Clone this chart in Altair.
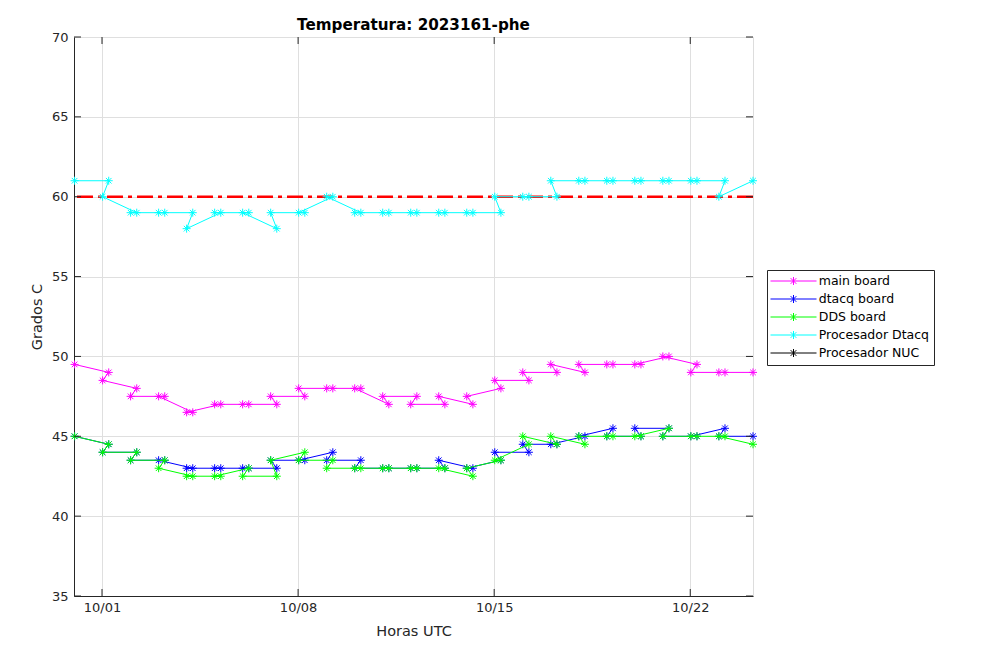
import altair as alt
import pandas as pd

# ---------------- data ----------------
times = [
    "2023-09-30T00:30:00Z",
    "2023-10-01T05:45:00Z", "2023-10-01T00:30:00Z",
    "2023-10-02T05:45:00Z", "2023-10-02T00:30:00Z",
    "2023-10-03T05:45:00Z", "2023-10-03T00:30:00Z",
    "2023-10-04T05:45:00Z", "2023-10-04T00:30:00Z",
    "2023-10-05T05:45:00Z", "2023-10-05T00:30:00Z",
    "2023-10-06T05:45:00Z", "2023-10-06T00:30:00Z",
    "2023-10-07T05:45:00Z", "2023-10-07T00:30:00Z",
    "2023-10-08T05:45:00Z", "2023-10-08T00:30:00Z",
    "2023-10-09T05:45:00Z", "2023-10-09T00:30:00Z",
    "2023-10-10T05:45:00Z", "2023-10-10T00:30:00Z",
    "2023-10-11T05:45:00Z", "2023-10-11T00:30:00Z",
    "2023-10-12T05:45:00Z", "2023-10-12T00:30:00Z",
    "2023-10-13T05:45:00Z", "2023-10-13T00:30:00Z",
    "2023-10-14T05:45:00Z", "2023-10-14T00:30:00Z",
    "2023-10-15T05:45:00Z", "2023-10-15T00:30:00Z",
    "2023-10-16T05:45:00Z", "2023-10-16T00:30:00Z",
    "2023-10-17T05:45:00Z", "2023-10-17T00:30:00Z",
    "2023-10-18T05:45:00Z", "2023-10-18T00:30:00Z",
    "2023-10-19T05:45:00Z", "2023-10-19T00:30:00Z",
    "2023-10-20T05:45:00Z", "2023-10-20T00:30:00Z",
    "2023-10-21T05:45:00Z", "2023-10-21T00:30:00Z",
    "2023-10-22T05:45:00Z", "2023-10-22T00:30:00Z",
    "2023-10-23T05:45:00Z", "2023-10-23T00:30:00Z",
    "2023-10-24T05:45:00Z",
]

main_board = [49.5, 49, 48.5, 48, 47.5, 47.5, 47.5, 46.5, 46.5, 47,
              47, 47, 47, 47, 47.5, 47.5, 48, 48, 48, 48,
              48, 47, 47.5, 47.5, 47, 47, 47.5, 47, 47.5, 48,
              48.5, 48.5, 49, 49, 49.5, 49, 49.5, 49.5, 49.5, 49.5,
              49.5, 50, 50, 49.5, 49, 49, 49, 49]

dtacq_board = [45, 44.5, 44, 44, 43.5, 43.5, 43.5, 43, 43, 43,
               43, 43, 43, 43, 43.5, 43.5, 43.5, 44, 43.5, 43.5,
               43, 43, 43, 43, 43, 43, 43.5, 43, 43, 43.5,
               44, 44, 44.5, 44.5, 44.5, 45, 45, 45.5, 45, 45,
               45.5, 45.5, 45, 45, 45, 45.5, 45, 45]

dds_board = [45, 44.5, 44, 44, 43.5, 43.5, 43, 42.5, 42.5, 42.5,
             42.5, 43, 42.5, 42.5, 43.5, 44, 43.5, 43.5, 43, 43,
             43, 43, 43, 43, 43, 43, 43, 42.5, 43, 43.5,
             43.5, 44.5, 45, 44.5, 45, 44.5, 45, 45, 45, 45,
             45, 45.5, 45, 45, 45, 45, 45, 44.5]

proc_dtacq = [61, 61, 60, 59, 59, 59, 59, 59, 58, 59,
              59, 59, 59, 58, 59, 59, 59, 60, 60, 59,
              59, 59, 59, 59, 59, 59, 59, 59, 59, 59,
              60, 60, 60, 60, 61, 61, 61, 61, 61, 61,
              61, 61, 61, 61, 61, 61, 60, 61]

proc_nuc = []  # no visible samples

series_names = ["main board", "dtacq board", "DDS board",
                "Procesador Dtacq", "Procesador NUC"]
series_colors = ["#ff00ff", "#0000ff", "#00ff00", "#00ffff", "#000000"]
series_values = [main_board, dtacq_board, dds_board, proc_dtacq, proc_nuc]

threshold = [60]
y_ticks = [35, 40, 45, 50, 55, 60, 65, 70]
x_tick_dates = ["2023-10-01T00:00:00Z", "2023-10-08T00:00:00Z",
                "2023-10-15T00:00:00Z", "2023-10-22T00:00:00Z"]

title_text = "Temperatura: 2023161-phe"
x_title = "Horas UTC"
y_title = "Grados C"

# ---------------- build table ----------------
rows = []
for name, vals in zip(series_names, series_values):
    for i, (t, v) in enumerate(zip(times, vals)):
        rows.append({"serie": name, "t": t, "v": v, "idx": i})
df = pd.DataFrame(rows)

W, H = 679, 559
TICK = 7
AX = "#262626"
FONT = "DejaVu Sans"

x_scale = alt.Scale(
    type="utc",
    domain=[alt.DateTime(year=2023, month=9, date=30, hours=0, utc=True),
            alt.DateTime(year=2023, month=10, date=24, hours=5, minutes=45, utc=True)],
)
x_axis = alt.Axis(
    values=[alt.DateTime(year=2023, month=10, date=d, utc=True) for d in (1, 8, 15, 22)],
    format="%m/%d", title=x_title, ticks=False, labelPadding=5, titlePadding=10,
    grid=True, gridColor="#dfdfdf", domainColor=AX,
    labelFont=FONT, labelFontSize=13, labelColor=AX,
    titleFont=FONT, titleFontSize=14.5, titleFontWeight="normal", titleColor=AX,
)
y_scale = alt.Scale(domain=[35, 70], nice=False, zero=False)
y_axis = alt.Axis(
    values=y_ticks, title=y_title, ticks=False, labelPadding=6, titlePadding=7,
    grid=True, gridColor="#dfdfdf", domainColor=AX,
    labelFont=FONT, labelFontSize=13, labelColor=AX,
    titleFont=FONT, titleFontSize=14.5, titleFontWeight="normal", titleColor=AX,
)

star = "M-1,0L1,0M0,-1L0,1M-0.7,-0.7L0.7,0.7M-0.7,0.7L0.7,-0.7"
legend_sym = ("M-4.6,0L4.6,0M0,-0.8L0,0.8M-0.57,-0.57L0.57,0.57"
              "M-0.57,0.57L0.57,-0.57")

color_enc = alt.Color(
    "serie:N",
    scale=alt.Scale(domain=series_names, range=series_colors),
    legend=alt.Legend(
        title=None, orient="none", legendX=693, legendY=233,
        direction="vertical", symbolType=legend_sym, symbolSize=100,
        symbolStrokeWidth=1, symbolOffset=15.5, labelOffset=19,
        symbolFillColor="transparent",
        labelFont=FONT, labelFontSize=12.5, labelColor="#000000",
        padding=4.75, rowPadding=5, strokeColor=AX, fillColor="#ffffff",
    ),
)

x_enc = alt.X("t:T", scale=x_scale, axis=x_axis)
y_enc = alt.Y("v:Q", scale=y_scale, axis=y_axis)

layers = []

# threshold line
layers.append(
    alt.Chart(pd.DataFrame({"v": threshold})).mark_rule(
        color="#ff0000", strokeWidth=2.5, strokeDash=[16, 5, 4, 5]
    ).encode(y=y_enc)
)

base = alt.Chart(df)
for name in series_names:
    if name == "Procesador NUC" and len(proc_nuc) == 0:
        continue
    sub = base.transform_filter(alt.datum.serie == name)
    layers.append(
        sub.mark_line(strokeWidth=1).encode(
            x=x_enc, y=y_enc, color=color_enc, order=alt.Order("idx:Q")
        )
    )
    layers.append(
        sub.mark_point(shape=star, size=64, filled=False, strokeWidth=1, opacity=1).encode(
            x=x_enc, y=y_enc, color=color_enc
        )
    )

# inward tick marks on all four sides
yt = alt.Chart(pd.DataFrame({"v": y_ticks}))
layers.append(yt.mark_rule(color=AX, strokeWidth=1).encode(
    y=y_enc, x=alt.value(0), x2=alt.value(TICK)))
layers.append(yt.mark_rule(color=AX, strokeWidth=1).encode(
    y=y_enc, x=alt.value(W - TICK), x2=alt.value(W)))
xt = alt.Chart(pd.DataFrame({"t": x_tick_dates}))
layers.append(xt.mark_rule(color=AX, strokeWidth=1).encode(
    x=x_enc, y=alt.value(H - TICK), y2=alt.value(H)))
layers.append(xt.mark_rule(color=AX, strokeWidth=1).encode(
    x=x_enc, y=alt.value(0), y2=alt.value(TICK)))

chart = alt.layer(*layers).properties(
    width=W, height=H,
    title=alt.Title(title_text, font=FONT, fontSize=15.2, fontWeight="bold",
                    color="#000000", frame="group", anchor="middle",
                    baseline="bottom", offset=5, dy=22),
    autosize=alt.AutoSizeParams(type="none"),
    padding={"left": 66, "top": 29, "right": 247, "bottom": 57},
).configure_view(stroke=AX, strokeWidth=1).configure(background="#ffffff")

chart.save("out.html", embed_options={"renderer": "svg", "actions": False})
